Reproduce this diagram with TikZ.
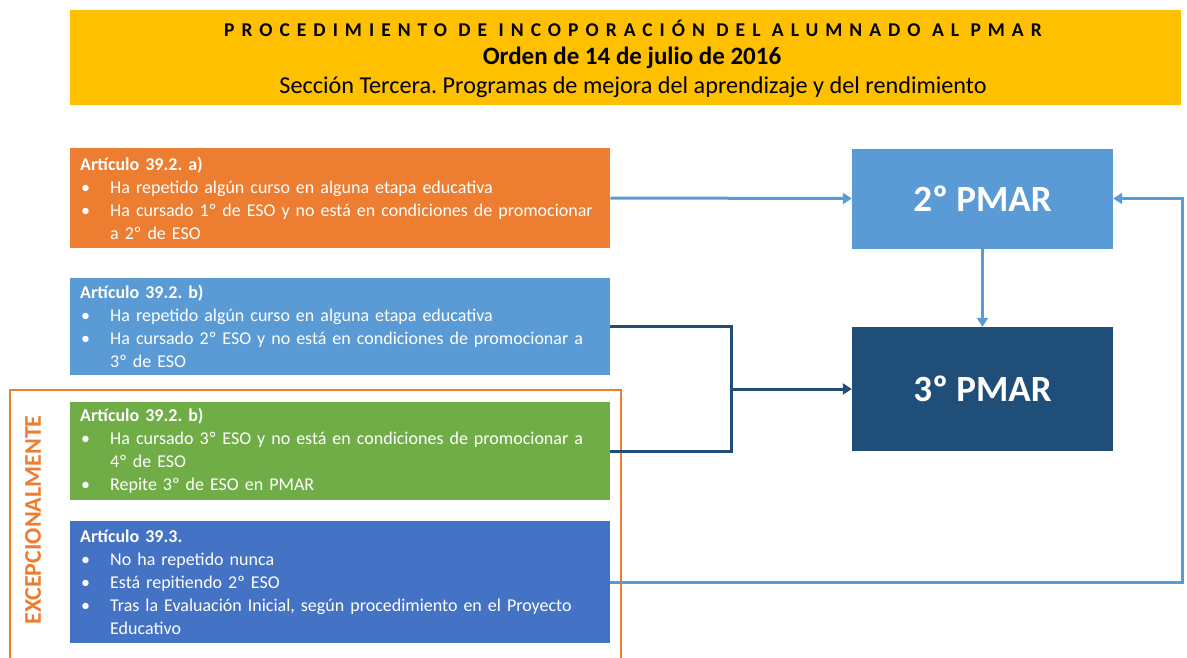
\documentclass[tikz,border=0pt]{standalone}
\usepackage{fontspec}
\setmainfont{Carlito}
\newfontfamily\spacedfont[LetterSpace=36]{Carlito}
\usetikzlibrary{arrows.meta,calc}
\definecolor{cyellow}{HTML}{FFC000}
\definecolor{corange}{HTML}{ED7D31}
\definecolor{clblue}{HTML}{5B9BD5}
\definecolor{cgreen}{HTML}{70AD47}
\definecolor{cblue}{HTML}{4472C4}
\definecolor{cdblue}{HTML}{1F4E79}
\newcommand{\bitem}{\makebox[30pt][l]{\hspace{1pt}•}}
\newcommand{\bcont}{\hspace*{30pt}}
\frenchspacing
\begin{document}
\frenchspacing
\begin{tikzpicture}[x=1pt,y=-1pt,
  critbox/.style={anchor=west, minimum width=540pt, text width=520pt, inner xsep=10pt, inner ysep=0pt, align=left, text=white, font=\frenchspacing\fontsize{18}{23}\selectfont},
  pmarbox/.style={minimum width=261pt, inner sep=0pt, text=white, font=\fontsize{37}{40}\selectfont\bfseries},
  lbline/.style={draw=clblue, line width=3pt},
  dbline/.style={draw=cdblue, line width=3pt},
  tip/.style={-{Triangle[length=9pt,width=11pt]}}
]
\fill[white] (0,0) rectangle (1187,657);
\useasboundingbox (0,0) rectangle (1187,657);

% header
\node[fill=cyellow, minimum width=1111pt, minimum height=95pt, anchor=north west, inner sep=0pt] (hdr) at (70,10) {};
\node[font=\spacedfont\bfseries\fontsize{19.5}{22}\selectfont] (t1) at (633,28) {PROCEDIMIENTO DE INCOPORACIÓN DEL ALUMNADO AL PMAR};
\node[font=\frenchspacing\bfseries\fontsize{25}{28}\selectfont] (t2) at (632,58) {Orden de 14 de julio de 2016};
\node[font=\frenchspacing\fontsize{24.2}{28}\selectfont] (t3) at (633,87.5) {Sección Tercera. Programas de mejora del aprendizaje y del rendimiento};

% exceptional frame
\draw[corange, line width=2.5pt] (10,662) -- (10,390) -- (621,390) -- (621,662);
\node[rotate=90, text=corange, font=\bfseries\fontsize{24}{28}\selectfont] (exc) at (33,520) {EXCEPCIONALMENTE};

% criteria boxes
\node[critbox, fill=corange, minimum height=100pt] (a) at (70,198) {\textbf{Artículo 39.2. a)}\\
\bitem Ha repetido algún curso en alguna etapa educativa\\
\bitem Ha cursado 1º de ESO y no está en condiciones de promocionar\\
\bcont a 2º de ESO};
\node[critbox, fill=clblue, minimum height=97pt] (b) at (70,326.5) {\textbf{Artículo 39.2. b)}\\
\bitem Ha repetido algún curso en alguna etapa educativa\\
\bitem Ha cursado 2º ESO y no está en condiciones de promocionar a\\
\bcont 3º de ESO};
\node[critbox, fill=cgreen, minimum height=98pt] (c) at (70,451) {\textbf{Artículo 39.2. b)}\\
\bitem Ha cursado 3º ESO y no está en condiciones de promocionar a\\
\bcont 4º de ESO\\
\bitem Repite 3º de ESO en PMAR};
\node[critbox, fill=cblue, minimum height=122pt] (d) at (70,582) {\textbf{Artículo 39.3.}\\
\bitem No ha repetido nunca\\
\bitem Está repitiendo 2º ESO\\
\bitem Tras la Evaluación Inicial, según procedimiento en el Proyecto\\
\bcont Educativo};

% PMAR boxes
\node[pmarbox, fill=clblue, minimum height=100pt] (p2) at (982.5,198.5) {2º PMAR};
\node[pmarbox, fill=cdblue, minimum height=124pt] (p3) at (982.5,389) {3º PMAR};

% connectors
\coordinate (j) at (731,389);
\coordinate (r) at (1182,582);
\draw[lbline, tip] (a.east) -- (p2.west);
\draw[lbline, tip] (p2.south) -- (p3.north);
\draw[dbline] (b.east) -| (j) |- (c.east);
\draw[dbline, tip] (j) -- (p3.west);
\draw[lbline, tip] (d.east) -- (r) |- (p2.east);
\end{tikzpicture}
\end{document}
